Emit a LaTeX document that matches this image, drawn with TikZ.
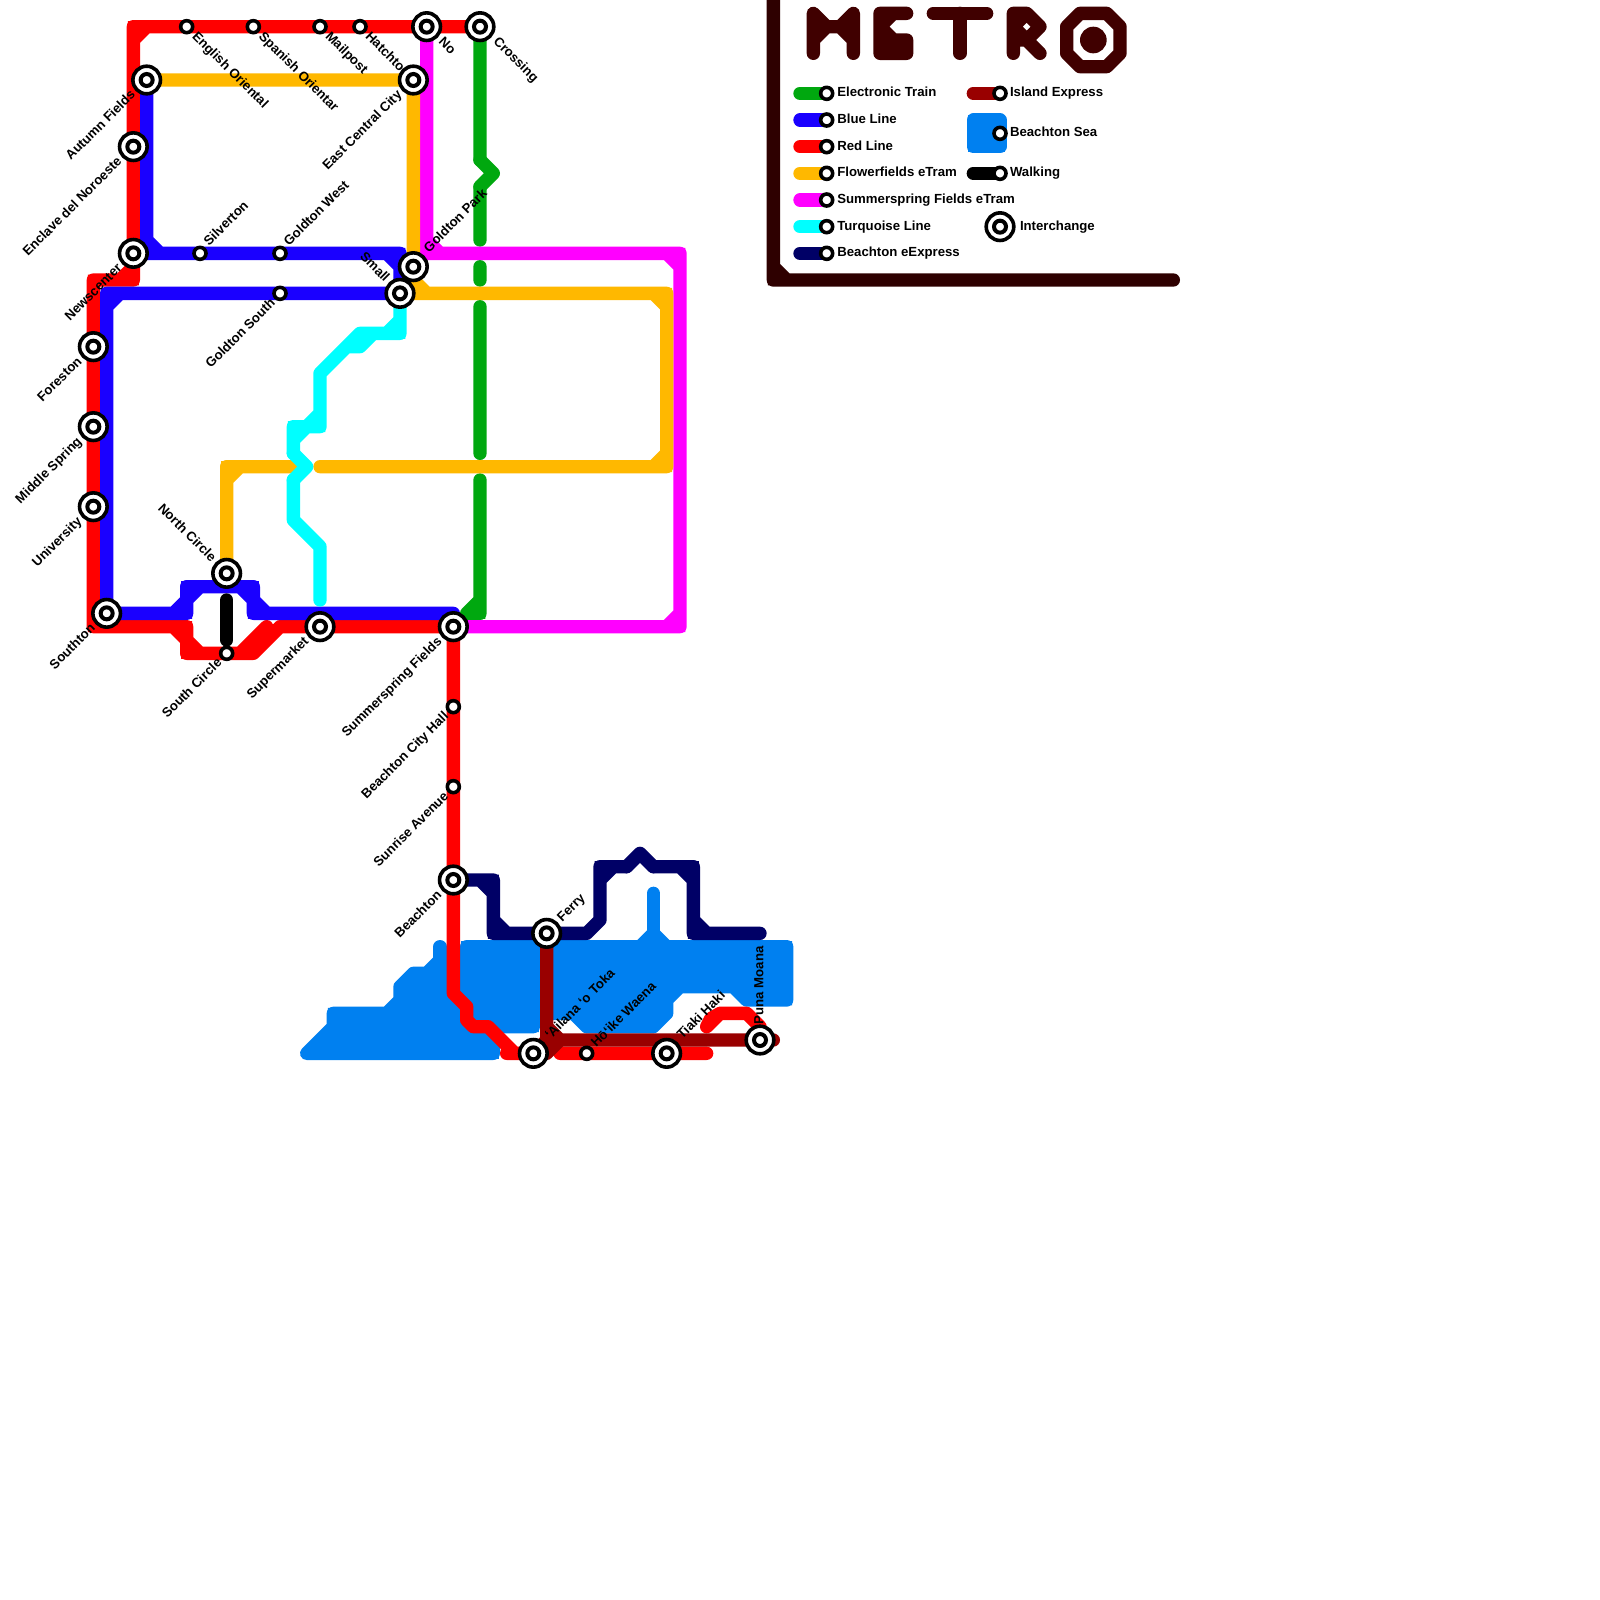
\documentclass[tikz,border=0pt]{standalone}
\usepackage{fontspec}
\setmainfont{Liberation Sans}[BoldFont={Liberation Sans Bold}]
\definecolor{cG}{HTML}{00A80F}
\definecolor{cB}{HTML}{1A00FF}
\definecolor{cR}{HTML}{FF0000}
\definecolor{cO}{HTML}{FFB800}
\definecolor{cM}{HTML}{FF00FF}
\definecolor{cC}{HTML}{00FFFF}
\definecolor{cN}{HTML}{000066}
\definecolor{cD}{HTML}{990000}
\definecolor{cS}{HTML}{0080F0}
\definecolor{cT}{HTML}{400000}
\definecolor{cF}{HTML}{2E0000}
\pgfdeclarelayer{stations}
\pgfsetlayers{main,stations}
\tikzset{
  x=10pt,y=-10pt,
  mr/.style={draw=#1,line width=10pt,line join=round,line cap=round},
  ml/.style={mr=#1,preaction={draw=#1,line width=8.2pt,line join=miter,miter limit=1.5,line cap=butt}},
  sea/.style={ml=cS,fill=cS},
  ttl/.style={mr=cT,fill=cT},
  sm/.style={circle,draw=black,fill=white,line width=2.7pt,inner sep=0pt,outer sep=0pt,minimum size=9pt},
  ix/.style={circle,draw=black,fill=white,line width=2.7pt,inner sep=0pt,outer sep=0pt,minimum size=20.7pt,
    path picture={\draw[black,line width=3pt] (path picture bounding box.center) circle (4.5pt);}},
  lbl/.style={font=\fontsize{9.9pt}{10pt}\selectfont\bfseries,inner sep=0pt,outer sep=0pt,text height=.72em,text depth=.2em,text=black},
  upr/.style={lbl,rotate=45,anchor=west},
  upl/.style={lbl,rotate=45,anchor=east},
  dnr/.style={lbl,rotate=-45,anchor=west},
  dnl/.style={lbl,rotate=-45,anchor=east},
  lgd/.style={lbl,anchor=west},
}
\begin{document}
\begin{tikzpicture}
\fill[white] (0,0) rectangle (120,120);
\useasboundingbox (0,0) rectangle (120,120);
% stations
\begin{pgfonlayer}{stations}
\node[ix] (Crossing) at (36,2) {};
\node[ix] (No) at (32,2) {};
\node[sm] (Hatchto) at (27,2) {};
\node[sm] (Mailpost) at (24,2) {};
\node[sm] (Spanish) at (19,2) {};
\node[sm] (English) at (14,2) {};
\node[ix] (Autumn) at (11,6) {};
\node[ix] (EastCC) at (31,6) {};
\node[ix] (Enclave) at (10,11) {};
\node[ix] (Newscenter) at (10,19) {};
\node[sm] (Silverton) at (15,19) {};
\node[sm] (GWest) at (21,19) {};
\node[sm] (GSouth) at (21,22) {};
\node[ix] (GPark) at (31,20) {};
\node[ix] (Small) at (30,22) {};
\node[ix] (Foreston) at (7,26) {};
\node[ix] (Middle) at (7,32) {};
\node[ix] (University) at (7,38) {};
\node[ix] (Southton) at (8,46) {};
\node[ix] (NCircle) at (17,43) {};
\node[sm] (SCircle) at (17,49) {};
\node[ix] (Supermarket) at (24,47) {};
\node[ix] (Summer) at (34,47) {};
\node[sm] (CityHall) at (34,53) {};
\node[sm] (Sunrise) at (34,59) {};
\node[ix] (Beachton) at (34,66) {};
\node[ix] (Ferry) at (41,70) {};
\node[ix] (Ailana) at (40,79) {};
\node[sm] (Hoike) at (44,79) {};
\node[ix] (Tiaki) at (50,79) {};
\node[ix] (Puna) at (57,78) {};
% legend stations
\node[sm] (k1) at (62,7) {};
\node[sm] (k2) at (62,9) {};
\node[sm] (k3) at (62,11) {};
\node[sm] (k4) at (62,13) {};
\node[sm] (k5) at (62,15) {};
\node[sm] (k6) at (62,17) {};
\node[sm] (k7) at (62,19) {};
\node[sm] (k8) at (75,7) {};
\node[sm] (k9) at (75,10) {};
\node[sm] (k10) at (75,13) {};
\node[ix] (k11) at (75,17) {};
\end{pgfonlayer}
% sea
\draw[sea] (33,72)--(32,73)--(31,73)--(30,74)--(30,75)--(29,76)--(25,76)--(25,77)--(23,79)--(37,79)--(37,78)--(36,77)--(34,75)--(34,72)--cycle;
\draw[ml=cS] (33,71)--(33,73);
\draw[sea] (35,71)--(48,71)--(49,70)--(50,71)--(59,71)--(59,75)--(56,75)--(55,74)--(51,74)--(50,75)--(50,76)--(49,77)--(44,77)--(43,76)--(40,76)--(40,77)--(37,77)--(35,75)--cycle;
\draw[ml=cS] (49,67)--(49,71);
\draw[sea] (73,9)--(75,9)--(75,11)--(73,11)--cycle;
% green
\draw[ml=cG] (Crossing.center)--(36,12) (36,14)--(36,18) (36,20)--(36,21) (36,23)--(36,34) (36,36)--(36,46)--(35,46) (36,45)--(35,46);
\draw[mr=cG] (36,12)--(37,13)--(36,14);
% magenta
\draw[ml=cM] (No.center)--(32,19)--(51,19)--(51,47)--(Summer.center) (32,18)--(33,19) (50,19)--(51,20) (51,46)--(50,47);
% orange
\draw[ml=cO] (Autumn.center)--(EastCC.center)--(31,22)--(50,22)--(50,35)--(24,35) (31,21)--(32,22) (49,22)--(50,23) (50,34)--(49,35);
\draw[ml=cO] (NCircle.center)--(17,35)--(22,35) (18,35)--(17,36);
% red
\draw[ml=cR] (Crossing.center)--(10,2)--(Newscenter.center)--(10,21)--(7,21)--(7,47)--(14,47)--(14,49)--(19,49)--(21,47)--(Summer.center)--(34,74.5)--(35,75.5)--(35,76.5)--(35.5,77)--(36.6,77)--(38.6,79)
  (38,79)--(Ailana.center)
  (11,2)--(10,3) (10,20)--(9,21) (13,47)--(14,48) (14,48)--(15,49) (18,49)--(20,47)
  (42,79)--(53,79)
  (53,77)--(54,76)--(56,76)--(57,77)--(Puna.center)
  (53,77)--(53.3,76.4)--(54,76);
% blue
\draw[ml=cB] (Autumn.center)--(11,19)--(30,19)--(30,22)--(8,22)--(8,46)--(14,46)--(14,44)--(19,44)--(19,46)--(34,46)
  (11,18)--(12,19) (29,19)--(30,20) (9,22)--(8,23) (13,46)--(14,45) (14,45)--(15,44) (18,44)--(19,45) (19,45)--(20,46);
% cyan
\draw[ml=cC] (Small.center)--(30,25)--(27,25)--(24,28)--(24,32)--(22,32)--(22,34)
  (30,24)--(29,25) (28,25)--(27,26)--(26,26) (24,31)--(23,32)--(22,33)
  (22,36)--(22,39)--(24,41)--(24,45);
\draw[mr=cC] (22,34)--(23,35)--(22,36);
% navy
\draw[ml=cN] (Beachton.center)--(37,66)--(37,70)--(44,70)--(45,69)--(45,65)--(47,65) (49,65)--(52,65)--(52,70)--(57,70)
  (36,66)--(37,67) (37,69)--(38,70) (45,66)--(46,65) (51,65)--(52,66) (52,69)--(53,70);
\draw[mr=cN] (47,65)--(48,64)--(49,65);
% island express
\draw[ml=cD] (Ferry.center)--(41,78)--(58,78) (41,77)--(42,78);
\draw[mr=cD] (41,78)--(Ailana.center)--(41,79)--(42,78);
% walking
\draw[mr=black] (17,45)--(17,48);
% frame
\draw[ml=cF] (58,-2)--(58,21)--(88,21) (58,20)--(59,21);
% title
\draw[mr=cT] (61,4)--(61,1)--(62,2)--(63,2)--(64,1)--(64,4) (61,3)--(62,2) (63,2)--(64,3);
\draw[ttl] (68,1)--(66,1)--(66,4)--(68,4)--(68,3)--(67,3)--(66,2)--(67,1)--cycle;
\draw[mr=cT] (70,1)--(74,1) (72,1)--(72,4);
\draw[mr=cT] (76,4)--(76,1)--(77,1)--(78,2)--(77,3)--(76,3) (76,2)--(77,1) (76,2)--(77,3) (77,3)--(78,4);
\draw[mr=cT] (81,1)--(83,1)--(84,2)--(84,4)--(83,5)--(81,5)--(80,4)--(80,2)--cycle;
\fill[cT] (82,3) circle (10pt);
% legend lines
\draw[mr=cG] (60,7)--(k1.center);
\draw[mr=cB] (60,9)--(k2.center);
\draw[mr=cR] (60,11)--(k3.center);
\draw[mr=cO] (60,13)--(k4.center);
\draw[mr=cM] (60,15)--(k5.center);
\draw[mr=cC] (60,17)--(k6.center);
\draw[mr=cN] (60,19)--(k7.center);
\draw[mr=cD] (73,7)--(k8.center);
\draw[mr=black] (73,13)--(k10.center);
% legend text
\node[lgd] (t1) at (62.8,7) {Electronic Train};
\node[lgd] (t2) at (62.8,9) {Blue Line};
\node[lgd] (t3) at (62.8,11) {Red Line};
\node[lgd] (t4) at (62.8,13) {Flowerfields eTram};
\node[lgd] (t5) at (62.8,15) {Summerspring Fields eTram};
\node[lgd] (t6) at (62.8,17) {Turquoise Line};
\node[lgd] (t7) at (62.8,19) {Beachton eExpress};
\node[lgd] (t8) at (75.75,7) {Island Express};
\node[lgd] (t9) at (75.75,10) {Beachton Sea};
\node[lgd] (t10) at (75.75,13) {Walking};
\node[lgd] (t11) at (76.5,17) {Interchange};
% station labels
\node[dnr] (lEnglish) at ([shift={(.55,.6)}]English.center) {English Oriental};
\node[dnr] (lSpanish) at ([shift={(.55,.6)}]Spanish.center) {Spanish Orientar};
\node[dnr] (lMailpost) at ([shift={(.55,.6)}]Mailpost.center) {Mailpost};
\node[dnr] (lHatchto) at ([shift={(.55,.6)}]Hatchto.center) {Hatchto};
\node[dnr] (lNo) at ([shift={(1.05,1)}]No.center) {No};
\node[dnr] (lCrossing) at ([shift={(1.15,1)}]Crossing.center) {Crossing};
\node[upl] (lAutumn) at ([shift={(-1,1)}]Autumn.center) {Autumn Fields};
\node[upl] (lEnclave) at ([shift={(-1,1)}]Enclave.center) {Enclave del Noroeste};
\node[upl] (lNews) at ([shift={(-1,1)}]Newscenter.center) {Newscenter};
\node[upl] (lGSouth) at ([shift={(-.5,.6)}]GSouth.center) {Goldton South};
\node[upl] (lEast) at ([shift={(-1,1)}]EastCC.center) {East Central City};
\node[upl] (lFores) at ([shift={(-1,1)}]Foreston.center) {Foreston};
\node[upl] (lMiddle) at ([shift={(-1,1)}]Middle.center) {Middle Spring};
\node[upl] (lUniv) at ([shift={(-1,1)}]University.center) {University};
\node[upl] (lSouth) at ([shift={(-1,1)}]Southton.center) {Southton};
\node[upl] (lSCircle) at ([shift={(-.5,.6)}]SCircle.center) {South Circle};
\node[upl] (lSuper) at ([shift={(-1,1)}]Supermarket.center) {Supermarket};
\node[upl] (lSummer) at ([shift={(-1,1)}]Summer.center) {Summerspring Fields};
\node[upl] (lHall) at ([shift={(-.5,.6)}]CityHall.center) {Beachton City Hall};
\node[upl] (lSunrise) at ([shift={(-.5,.6)}]Sunrise.center) {Sunrise Avenue};
\node[upl] (lBeachton) at ([shift={(-1,1)}]Beachton.center) {Beachton};
\node[upr] (lSilver) at ([shift={(.5,-.7)}]Silverton.center) {Silverton};
\node[upr] (lGWest) at ([shift={(.5,-.7)}]GWest.center) {Goldton West};
\node[upr] (lGPark) at ([shift={(1,-1.2)}]GPark.center) {Goldton Park};
\node[upr] (lFerry) at ([shift={(1,-1)}]Ferry.center) {Ferry};
\node[upr] (lAilana) at ([shift={(1.1,-1.2)}]Ailana.center) {ʻAilana ʻo Toka};
\node[upr] (lHoike) at ([shift={(.55,-.6)}]Hoike.center) {Hōʻike Waena};
\node[upr] (lTiaki) at ([shift={(1,-1.2)}]Tiaki.center) {Tiaki Haki};
\node[dnl] (lNCircle) at ([shift={(-1,-1)}]NCircle.center) {North Circle};
\node[dnl] (lSmall) at ([shift={(-1,-1)}]Small.center) {Small};
\node[lbl,rotate=90,anchor=west] (lPuna) at ([shift={(0,-1.2)}]Puna.center) {Puna Moana};
\end{tikzpicture}
\end{document}
